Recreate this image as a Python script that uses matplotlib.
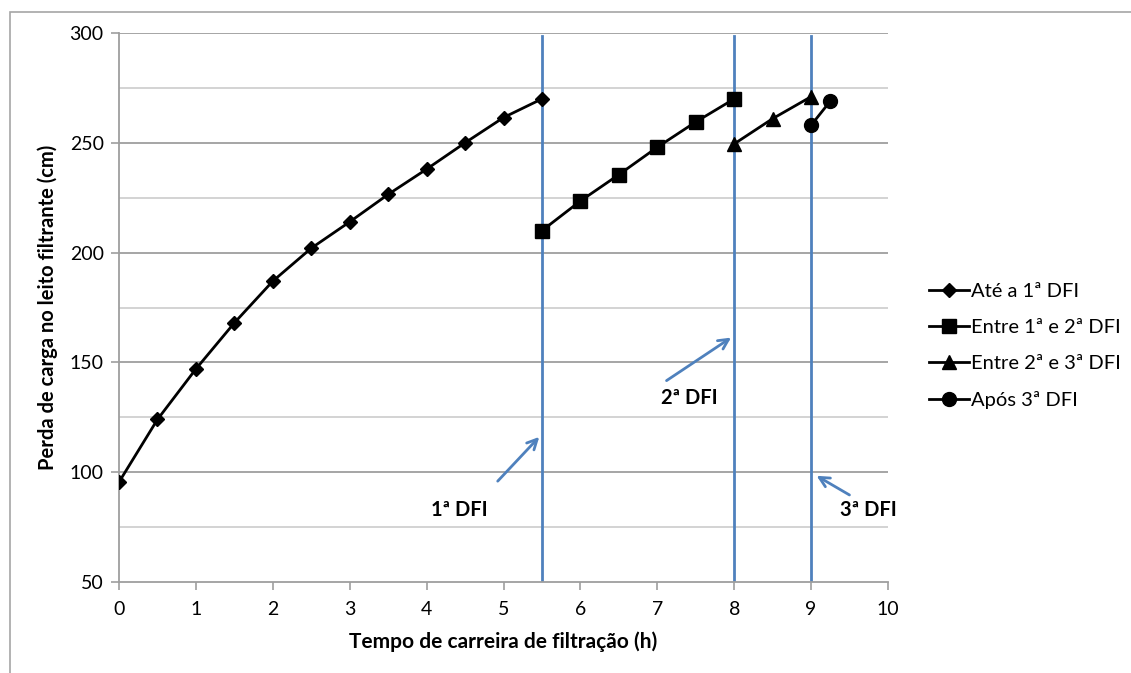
import matplotlib
matplotlib.use("Agg")
import matplotlib.pyplot as plt
from matplotlib.patches import Rectangle

plt.rcParams['font.family'] = ['Lato', 'DejaVu Sans']

# Data
x1 = [0, 0.5, 1, 1.5, 2, 2.5, 3, 3.5, 4, 4.5, 5, 5.5]
y1 = [95.5, 124, 147, 168, 187, 202, 214, 226.5, 238, 250, 261.5, 270]
x2 = [5.5, 6, 6.5, 7, 7.5, 8]
y2 = [210, 223.5, 235.5, 248, 259.5, 270]
x3 = [8, 8.5, 9]
y3 = [249.5, 261, 271]
x4 = [9, 9.25]
y4 = [258, 269]
labels = ["Até a 1ª DFI", "Entre 1ª e 2ª DFI", "Entre 2ª e 3ª DFI", "Após 3ª DFI"]
dfi_x = [5.5, 8, 9]
dfi_labels = ["1ª DFI", "2ª DFI", "3ª DFI"]
# annotation: (text x, text y, arrow tail x, tail y, head x, head y)
dfi_text_pos = [(4.42, 83), (7.41, 134), (9.75, 83)]
dfi_tail = [(4.90, 95), (7.09, 141), (9.53, 89)]
dfi_head = [(5.49, 117), (7.99, 162), (9.04, 99)]

xticks = list(range(0, 11))
yticks = [50, 100, 150, 200, 250, 300]
yminor = [75, 125, 175, 225, 275]

fig = plt.figure(figsize=(11.31, 6.73), dpi=100)
ax = fig.add_axes([119/1131, 1-582/673, (888-119)/1131, (582-33)/673])

# chart area border
fig.patches.append(Rectangle((10/1131, -0.1), 1.2, 1 - 12/673 + 0.1, transform=fig.transFigure,
                             fill=False, edgecolor='#a6a6a6', linewidth=1.2))

ax.set_xlim(0, 10)
ax.set_ylim(50, 300)
ax.set_xticks(xticks)
ax.set_yticks(yticks)
for v in yticks[1:]:
    ax.axhline(v, color='#9e9e9e', lw=1.3, zorder=0)
for v in yminor:
    ax.axhline(v, color='#d0d0d0', lw=1.3, zorder=0)

for s in ['top', 'right']:
    ax.spines[s].set_visible(False)
for s in ['left', 'bottom']:
    ax.spines[s].set_color('#9e9e9e')
    ax.spines[s].set_linewidth(1.3)
ax.tick_params(axis='both', colors='#9e9e9e', labelcolor='black', labelsize=14, length=6, width=1.2)
ax.tick_params(axis='x', pad=8)
ax.tick_params(axis='y', pad=5)

line_kw = dict(color='black', lw=2, zorder=3)
ax.plot(x1, y1, marker='D', markersize=7, label=labels[0], **line_kw)
ax.plot(x2, y2, marker='s', markersize=10, label=labels[1], **line_kw)
ax.plot(x3, y3, marker='^', markersize=10, label=labels[2], **line_kw)
ax.plot(x4, y4, marker='o', markersize=10, label=labels[3], **line_kw)

blue = '#4f81bd'
for xv in dfi_x:
    ax.plot([xv, xv], [50, 298.5], color=blue, lw=2, zorder=2)

for (tx, ty), (ax0, ay0), (hx, hy), lab in zip(dfi_text_pos, dfi_tail, dfi_head, dfi_labels):
    ax.annotate('', xy=(hx, hy), xytext=(ax0, ay0),
                arrowprops=dict(arrowstyle='->', color=blue, lw=2, mutation_scale=18))
    ax.text(tx, ty, lab, ha='center', va='center', fontsize=14.5, fontweight='bold')

ax.set_xlabel("Tempo de carreira de filtração (h)", fontsize=15, fontweight='bold', labelpad=9)
ax.set_ylabel("Perda de carga no leito filtrante (cm)", fontsize=14.5, fontweight='bold', labelpad=8)

leg = ax.legend(loc='center left', bbox_to_anchor=(1.03, 0.43), frameon=False, fontsize=14.5,
                handlelength=2.0, handletextpad=0.1, labelspacing=0.95)

fig.savefig("out.png", dpi=100)
